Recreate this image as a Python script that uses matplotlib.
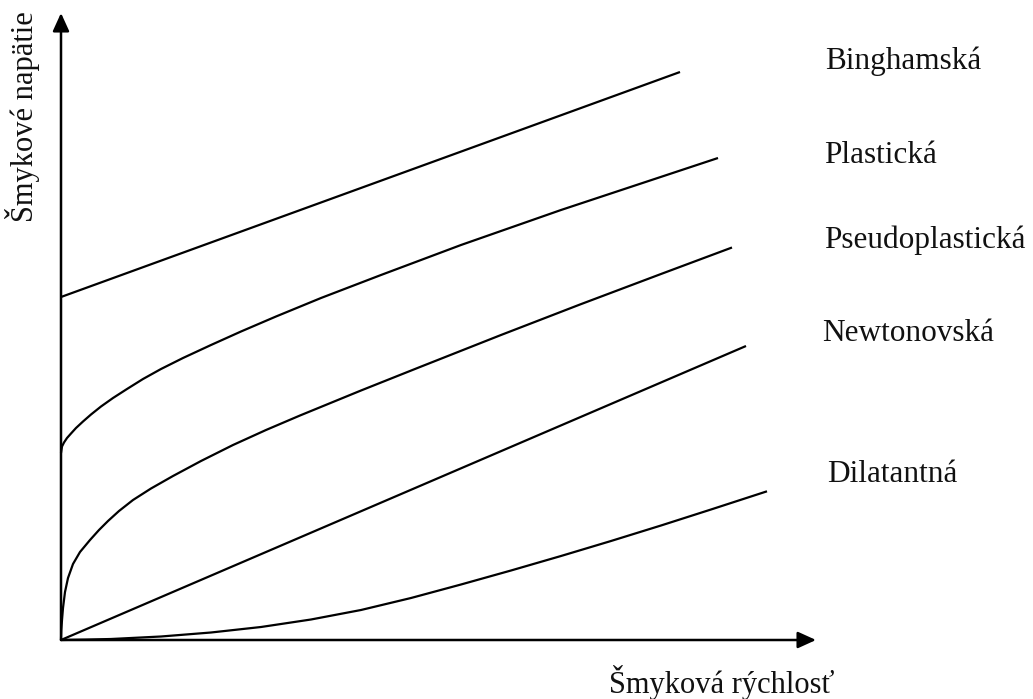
import matplotlib
matplotlib.use('Agg')
import matplotlib.pyplot as plt

# Values (arbitrary units)
bingham_x = [0, 61.9]
bingham_y = [34.3, 56.8]

plast_x = [0, 0.1, 0.3, 0.6, 1.0, 1.5, 2.2, 3.0, 4.0, 5.2, 6.6, 8.2, 10.0, 12.2,
           15.0, 18.0, 21.5, 26.0, 32.0, 40.0, 50.0, 65.7]
plast_y = [18.7, 19.35, 19.75, 20.2, 20.65, 21.2, 21.85, 22.55, 23.35, 24.2, 25.1,
           26.1, 27.1, 28.2, 29.5, 30.85, 32.35, 34.2, 36.5, 39.5, 43.0, 48.2]

pseudo_x = [0, 0.03, 0.1, 0.2, 0.4, 0.7, 1.2, 1.9, 2.9, 3.8, 4.7, 5.8, 7.2, 9.0,
            11.2, 14.0, 17.2, 20.5, 23.9, 30.0, 35.9, 44.0, 51.9, 60.0, 67.1]
pseudo_y = [0, 1.0, 2.0, 3.2, 4.8, 6.2, 7.6, 8.8, 10.0, 11.0, 11.9, 12.9, 14.0, 15.15,
            16.4, 17.9, 19.5, 21.0, 22.45, 24.95, 27.3, 30.5, 33.55, 36.6, 39.25]

newton_x = [0, 68.5]
newton_y = [0, 29.4]

dilat_x = [0, 2.5, 5, 10, 15, 20, 25, 30, 35, 40, 45, 50, 55, 60, 65, 70.6]
dilat_y = [0, 0.04, 0.1, 0.35, 0.75, 1.3, 2.05, 3.0, 4.2, 5.55, 6.95, 8.4, 9.9,
           11.45, 13.05, 14.87]

names = ['Binghamská', 'Plastická', 'Pseudoplastická', 'Newtonovská', 'Dilatantná']
label_x = [76.4, 76.3, 76.3, 76.1, 76.6]
label_y = [57.9, 48.5, 40.0, 30.7, 16.5]

x_title = 'Šmyková rýchlosť'
y_title = 'Šmykové napätie'

plt.rcParams['font.family'] = ['Liberation Serif', 'DejaVu Serif']

fig = plt.figure(figsize=(10.33, 6.99), dpi=100)
ax = fig.add_axes([0, 0, 1, 1])
ax.set_xlim(-6.1, 97.2)
ax.set_ylim(-5.9, 64.0)
ax.axis('off')

# axes with arrow heads
arrow = dict(arrowstyle='-|>,head_length=0.55,head_width=0.25', color='black',
             lw=1.8, shrinkA=0, shrinkB=0, mutation_scale=20)
ax.annotate('', xy=(75.5, 0), xytext=(0, 0), arrowprops=arrow)
ax.annotate('', xy=(0, 62.7), xytext=(0, 0), arrowprops=arrow)

for xs, ys in [(bingham_x, bingham_y), (plast_x, plast_y), (pseudo_x, pseudo_y),
               (newton_x, newton_y), (dilat_x, dilat_y)]:
    ax.plot(xs, ys, color='black', lw=1.6, solid_capstyle='butt',
            solid_joinstyle='round')

for name, lx, ly in zip(names, label_x, label_y):
    ax.text(lx, ly, name, fontsize=22.5, ha='left', va='center', color='#111111')

ax.text(66.05, -4.3, x_title, fontsize=22, ha='center', va='center', color='#111111')
ax.text(-3.8, 52.3, y_title, fontsize=22, ha='center', va='center', rotation=90,
        color='#111111')

fig.savefig('out.png', dpi=100)
